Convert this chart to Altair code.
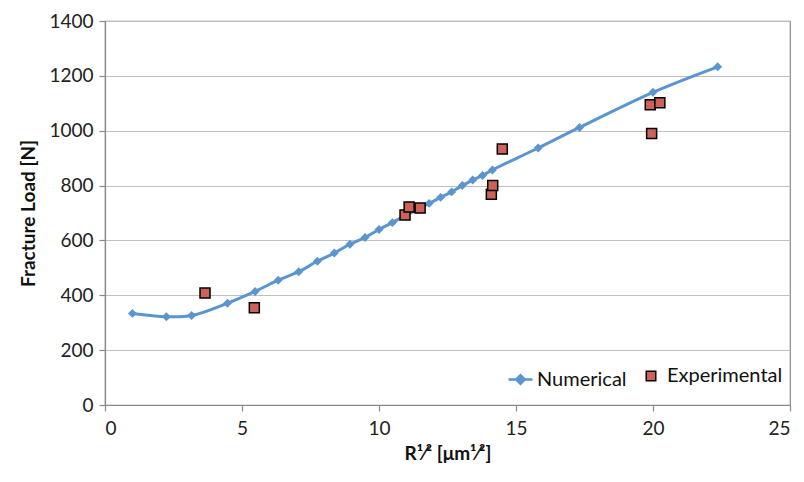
import altair as alt
import pandas as pd

num_x = [1.0, 2.24, 3.16, 4.47, 5.48, 6.32, 7.07, 7.75, 8.37, 8.94, 9.49, 10.0, 10.49,
         10.95, 11.40, 11.83, 12.25, 12.65, 13.04, 13.42, 13.78, 14.14, 15.81, 17.32, 20.0, 22.36]
num_y = [334, 322, 326, 371, 414, 455, 486, 524, 554, 586, 611, 640, 665,
         690, 712, 735, 757, 777, 800, 820, 837, 857, 937, 1012, 1140, 1233]

exp_x = [3.65, 5.45, 10.95, 11.1, 11.5, 14.1, 14.15, 14.5, 19.9, 20.25, 19.95]
exp_y = [408, 355, 693, 722, 718, 768, 800, 933, 1095, 1102, 990]

x_ticks = [0, 5, 10, 15, 20, 25]
y_ticks = [0, 200, 400, 600, 800, 1000, 1200, 1400]

BLUE = "#5B95CF"
RED = "#CD6258"
FONT = "Lato"

num_df = pd.DataFrame({"x": num_x, "y": num_y, "series": "Numerical"})
exp_df = pd.DataFrame({"x": exp_x, "y": exp_y, "series": "Experimental"})

xs = alt.Scale(domain=[0, 25], nice=False)
ys = alt.Scale(domain=[0, 1400], nice=False)

xenc = alt.X("x:Q", scale=xs, axis=alt.Axis(values=x_ticks, format="d", title="R¹⁄² [μm¹⁄²]", grid=False,
                                               tickSize=6, labelPadding=8, titlePadding=6))
yenc = alt.Y("y:Q", scale=ys, axis=alt.Axis(values=y_ticks, format="d", title="Fracture Load [N]", grid=True,
                                               tickSize=6, labelPadding=6, titlePadding=10))

num_legend = alt.Legend(
    title=None, orient="none", legendX=402, legendY=345,
    symbolType="M-1,0H1M-0.36,0L0,-0.36L0.36,0L0,0.36Z",
    symbolSize=576, symbolStrokeWidth=2.5, symbolFillColor=BLUE, symbolStrokeColor=BLUE,
    labelFontSize=20, labelFont=FONT, labelColor="#111", labelOffset=3, padding=0,
)
exp_legend = alt.Legend(
    title=None, orient="none", legendX=536, legendY=345,
    symbolType="square", symbolSize=90, symbolStrokeColor="black", symbolStrokeWidth=1.5,
    labelFontSize=20, labelFont=FONT, labelColor="#111", labelOffset=6, padding=0,
)

color_enc = alt.Color("series:N", scale=alt.Scale(domain=["Numerical"], range=[BLUE]), legend=num_legend)

line = alt.Chart(num_df).mark_line(strokeWidth=3, interpolate="catmull-rom").encode(
    x=xenc, y=yenc, color=color_enc
)
pts = alt.Chart(num_df).mark_point(shape="diamond", filled=True, size=80, opacity=1).encode(
    x="x:Q", y="y:Q", color=color_enc
)
exp = alt.Chart(exp_df).mark_point(shape="square", filled=True, size=100, opacity=1,
                                   stroke="black", strokeWidth=1.5).encode(
    x="x:Q", y="y:Q",
    fill=alt.Fill("series:N", scale=alt.Scale(domain=["Experimental"], range=[RED]), legend=exp_legend),
)

chart = alt.layer(line, pts, exp).properties(
    width=685, height=384,
    autosize=alt.AutoSizeParams(type="none"),
    padding={"left": 97, "top": 13, "right": 6, "bottom": 60},
).configure_view(
    stroke="#888888", strokeWidth=1.2
).configure_axis(
    domainColor="#888888", domainWidth=1.2, tickColor="#888888", tickWidth=1.2,
    gridColor="#BFBFBF", gridWidth=1.2,
    labelFont=FONT, labelFontSize=19, labelColor="#222",
    titleFont=FONT, titleFontSize=19, titleFontWeight="bold", titleColor="#111",
)

chart.save("out.html", embed_options={"renderer": "svg", "actions": False})
